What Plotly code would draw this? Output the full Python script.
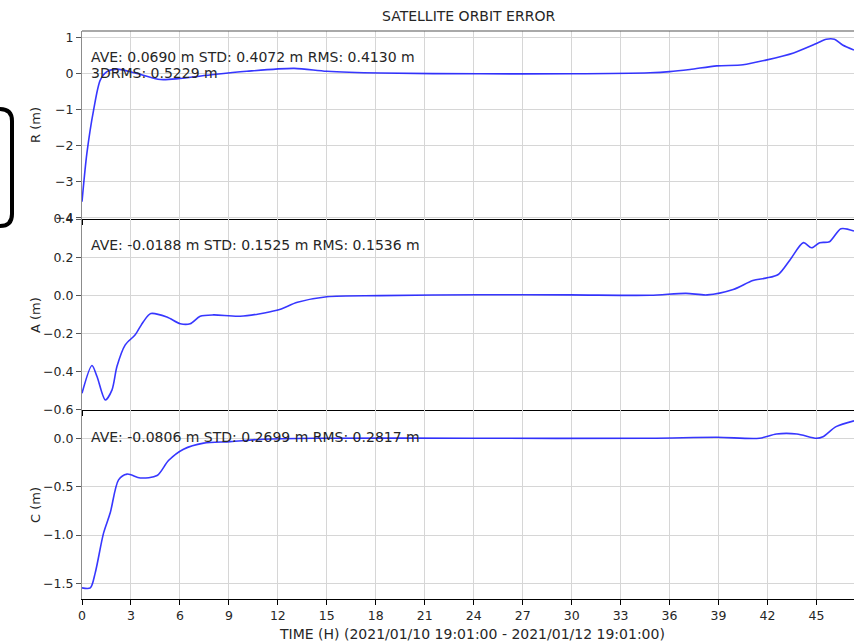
import plotly.graph_objects as go

# ---- data: orbit error components (hours since 2021/01/10 19:01:00, metres) ----
r_hours = [0.0, 0.3, 0.71, 1.12, 1.53, 2.14, 3.37, 4.8, 6.0, 8.06, 10.1, 13.0, 15.0, 18.3,
           24.4, 30.0, 34.8, 36.0, 37.25, 38.9, 40.5, 41.9, 43.6, 45.0, 45.6, 46.1, 46.6, 47.3]
r_err = [-3.56, -2.21, -1.01, -0.175, 0.06, 0.13, 0.01, -0.16, -0.13, -0.02, 0.07, 0.15, 0.07, 0.02,
         0.0, 0.0, 0.03, 0.06, 0.12, 0.22, 0.25, 0.38, 0.58, 0.84, 0.96, 0.96, 0.80, 0.66]

a_hours = [0.0, 0.61, 0.92, 1.43, 1.84, 2.14, 2.65, 3.26, 3.77, 4.22, 5.2, 6.02, 6.63, 7.24, 8.06,
           9.69, 11.94, 13.2, 15.0, 18.3, 24.4, 30.0, 34.8, 37.0, 38.3, 39.9, 41.1, 41.9, 42.66,
           43.4, 44.2, 44.7, 45.2, 45.8, 46.5, 47.3]
a_err = [-0.514, -0.368, -0.426, -0.549, -0.496, -0.374, -0.26, -0.207, -0.137, -0.096, -0.114,
         -0.149, -0.149, -0.11, -0.103, -0.11, -0.079, -0.037, -0.008, -0.002, 0.003, 0.002, 0.0,
         0.01, 0.002, 0.03, 0.077, 0.09, 0.109, 0.188, 0.276, 0.249, 0.276, 0.281, 0.349, 0.337]

c_hours = [0.0, 0.51, 0.81, 1.32, 1.73, 2.24, 2.76, 3.57, 4.6, 5.3, 6.22, 7.45, 9.08, 11.1, 14.2,
           24.0, 34.8, 38.9, 41.5, 42.55, 43.8, 45.0, 45.4, 46.2, 47.3]
c_err = [-1.545, -1.545, -1.39, -0.98, -0.77, -0.43, -0.37, -0.41, -0.385, -0.23, -0.113, -0.05,
         -0.035, -0.01, 0.0, 0.0, 0.0, 0.01, 0.0, 0.044, 0.044, 0.0, 0.015, 0.12, 0.18]

x_ticks = [0, 3, 6, 9, 12, 15, 18, 21, 24, 27, 30, 33, 36, 39, 42, 45]

stats_r = "AVE: 0.0690 m STD: 0.4072 m RMS: 0.4130 m"
stats_r2 = "3DRMS: 0.5229 m"
stats_a = "AVE: -0.0188 m STD: 0.1525 m RMS: 0.1536 m"
stats_c = "AVE: -0.0806 m STD: 0.2699 m RMS: 0.2817 m"

title_text = "SATELLITE ORBIT ERROR"
xlabel_text = "TIME (H) (2021/01/10 19:01:00 - 2021/01/12 19:01:00)"

# ---- page geometry ----
W, H = 854, 643
ML, MR, MT, MB = 82, 0, 31, 44
PW, PH = W - ML - MR, H - MT - MB


def px_x(px):
    return (px - ML) / PW


def px_y(py):
    return (H - MB - py) / PH


FONT = "DejaVu Sans"
TXT = "#262626"
LINE = "rgba(20,20,255,0.85)"
GRID = "#d6d6d6"

dom_c = [0.0, px_y(409.7)]
dom_a = [px_y(409.7), px_y(219)]
dom_r = [px_y(219), 1.0]

fig = go.Figure()
for i, (xs, ys) in enumerate([(r_hours, r_err), (a_hours, a_err), (c_hours, c_err)], start=1):
    fig.add_trace(go.Scatter(
        x=xs, y=ys, mode="lines",
        line=dict(color=LINE, width=1.6, shape="spline", smoothing=0.8),
        xaxis="x" if i == 1 else f"x{i}", yaxis="y" if i == 1 else f"y{i}",
        showlegend=False, hoverinfo="skip"))

xcommon = dict(range=[0, 47.3], tickvals=x_ticks, showgrid=True, gridcolor=GRID, gridwidth=1.2,
               zeroline=False, showline=True, linecolor="black", linewidth=1.2,
               ticks="outside", ticklen=5, tickcolor="black",
               tickfont=dict(family=FONT, size=12.5, color=TXT))
ycommon = dict(showgrid=True, gridcolor=GRID, gridwidth=1.2, zeroline=False,
               showline=True, linecolor="#8c8c8c", linewidth=1.2,
               ticks="outside", ticklen=5, tickcolor="#555",
               tickfont=dict(family=FONT, size=12.5, color=TXT))

fig.update_layout(
    width=W, height=H,
    margin=dict(l=ML, r=MR, t=MT, b=MB, pad=0),
    paper_bgcolor="white", plot_bgcolor="white",
    xaxis=dict(xcommon, anchor="y", showticklabels=False, domain=[0, 1]),
    xaxis2=dict(xcommon, anchor="y2", showticklabels=False, domain=[0, 1], matches="x"),
    xaxis3=dict(xcommon, anchor="y3", showticklabels=True, domain=[0, 1], matches="x"),
    yaxis=dict(ycommon, domain=dom_r, anchor="x", range=[-4.04, 1.19], dtick=1),
    yaxis2=dict(ycommon, domain=dom_a, anchor="x2", range=[-0.6, 0.4], dtick=0.2, tickformat=".1f"),
    yaxis3=dict(ycommon, domain=dom_c, anchor="x3", range=[-1.66, 0.295], dtick=0.5,
                tickformat=".1f"),
)


def note(text, xp, yp, size=14, xanchor="left", angle=0):
    return dict(text=text, x=px_x(xp), y=px_y(yp), xref="paper", yref="paper",
                xanchor=xanchor, yanchor="middle", textangle=angle, showarrow=False,
                font=dict(family=FONT, size=size, color=TXT))


annotations = [
    note(title_text, 468, 16, size=14, xanchor="center"),
    note(xlabel_text, 472, 634, size=14, xanchor="center"),
    note(stats_r, 89, 57),
    note(stats_r2, 89, 73),
    note(stats_a, 89, 245),
    note(stats_c, 89, 437),
]
for lbl, yc in [("R (m)", 125), ("A (m)", 315), ("C (m)", 505)]:
    annotations.append(note(lbl, 35, yc, size=13, xanchor="center", angle=-90))
fig.update_layout(annotations=annotations)

# top border of the upper panel
fig.add_shape(type="line", xref="paper", yref="paper", x0=0, x1=1, y0=1, y1=1,
              line=dict(color="#555", width=1.2), layer="above")

# bracket-shaped rounded frame on the left edge
xr, yt, yb, rr = 12, 109, 226, 12
path = (f"M {px_x(-10)},{px_y(yt)} L {px_x(xr - rr)},{px_y(yt)} "
        f"Q {px_x(xr)},{px_y(yt)} {px_x(xr)},{px_y(yt + rr)} "
        f"L {px_x(xr)},{px_y(yb - rr)} "
        f"Q {px_x(xr)},{px_y(yb)} {px_x(xr - rr)},{px_y(yb)} "
        f"L {px_x(-10)},{px_y(yb)}")
fig.add_shape(type="path", path=path, xref="paper", yref="paper",
              line=dict(color="black", width=4), layer="above")

fig.write_html("out.html")
